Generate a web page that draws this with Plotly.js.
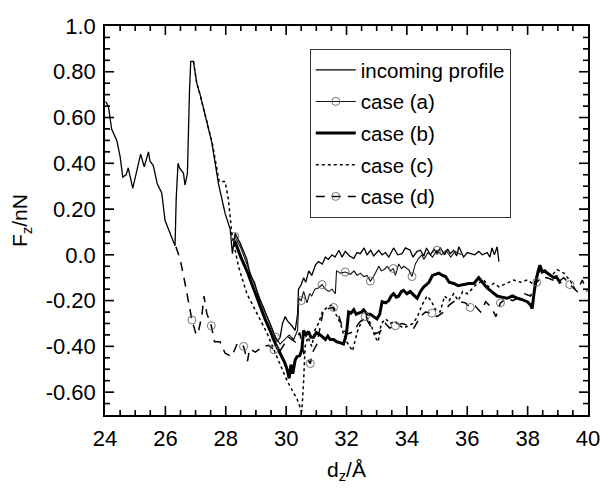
<!DOCTYPE html>
<html>
<head>
<meta charset="utf-8">
<script src="https://cdn.plot.ly/plotly-3.0.1.min.js"></script>
<style>html,body{margin:0;padding:0;background:#fff;}#chart{width:603px;height:489px;}</style>
</head>
<body>
<div id="chart"></div>
<script>
// ---------- data ----------
const incomingX = [24.02,24.11,24.22,24.39,24.50,24.59,24.70,24.77,24.92,25.05,25.18,25.30,25.44,25.49,25.60,25.73,25.88,25.99,26.16,26.25,26.32,26.36,26.42,26.47,26.60,26.65,26.73,26.80,26.84,26.93,27.04,27.15,27.35,27.54,27.76,27.98,28.15,28.22,28.31,28.48,28.70,28.81,28.95,29.10,29.25,29.40,29.55,29.70,29.80,29.88,29.97,30.05,30.19,30.30,30.38,30.41,30.50,30.58,30.65,30.75,30.85,30.97,31.07,31.20,31.30,31.40,31.52,31.62,31.75,31.85,31.96,32.10,32.24,32.35,32.46,32.58,32.68,32.80,32.90,33.07,33.18,33.29,33.40,33.56,33.70,33.84,33.95,34.11,34.20,34.34,34.45,34.56,34.65,34.78,34.90,35.00,35.11,35.25,35.35,35.44,35.55,35.65,35.72,35.80,35.88,36.00,36.11,36.25,36.38,36.50,36.66,36.75,36.82,36.90,36.99,37.05];
const incomingY = [0.67,0.65,0.55,0.50,0.43,0.34,0.35,0.38,0.29,0.36,0.44,0.385,0.45,0.41,0.39,0.31,0.27,0.15,0.09,0.06,0.04,0.25,0.40,0.38,0.356,0.305,0.356,0.72,0.845,0.845,0.75,0.70,0.59,0.49,0.31,0.18,0.11,0.005,0.094,0.05,-0.02,-0.09,-0.12,-0.19,-0.23,-0.28,-0.33,-0.38,-0.36,-0.30,-0.27,-0.29,-0.31,-0.33,-0.26,-0.15,-0.13,-0.10,-0.12,-0.07,-0.09,-0.045,-0.03,-0.04,-0.01,-0.02,0.0,-0.01,0.02,-0.01,0.015,-0.005,-0.015,0.01,0.005,0.03,0.0,0.02,-0.005,0.02,0.0,0.01,-0.01,0.03,0.0,0.005,0.03,0.02,-0.01,0.015,0.02,-0.005,0.03,0.0,0.025,0.005,0.03,0.0,0.025,0.005,0.02,-0.005,0.035,0.01,-0.01,0.01,0.005,0.0,0.015,0.0,0.01,-0.01,0.03,0.0,0.035,-0.03];

const caseAX = [28.30,28.50,28.70,28.90,29.10,29.30,29.50,29.65,29.80,29.95,30.10,30.25,30.38,30.42,30.50,30.58,30.69,30.78,30.85,30.95,31.07,31.19,31.30,31.41,31.52,31.63,31.67,31.80,31.96,32.13,32.25,32.35,32.46,32.57,32.68,32.79,32.90,33.07,33.15,33.24,33.35,33.45,33.55,33.62,33.73,33.82,33.89,34.00,34.06,34.17,34.28,34.39,34.50,34.56,34.70,34.85,35.00,35.15,35.30,35.45,35.60,35.80];
const caseAY = [0.08,0.03,-0.04,-0.11,-0.18,-0.25,-0.31,-0.36,-0.39,-0.37,-0.35,-0.37,-0.33,-0.19,-0.20,-0.16,-0.21,-0.17,-0.18,-0.15,-0.145,-0.13,-0.15,-0.16,-0.15,-0.17,-0.07,-0.08,-0.075,-0.085,-0.07,-0.09,-0.08,-0.095,-0.09,-0.115,-0.095,-0.05,-0.07,-0.065,-0.05,-0.07,-0.06,-0.09,-0.04,-0.06,-0.05,-0.06,-0.065,-0.095,-0.04,-0.015,0.0,-0.02,0.01,-0.01,0.02,0.0,0.02,-0.01,0.015,0.0];

const caseBX = [28.30,28.50,28.70,28.90,29.10,29.30,29.50,29.65,29.80,29.95,30.03,30.10,30.16,30.22,30.30,30.36,30.45,30.52,30.58,30.66,30.74,30.82,30.91,31.00,31.13,31.22,31.30,31.38,31.46,31.57,31.68,31.80,31.90,31.97,32.01,32.07,32.15,32.24,32.32,32.40,32.50,32.57,32.68,32.79,32.90,33.01,33.10,33.18,33.30,33.40,33.48,33.56,33.65,33.73,33.82,33.89,34.00,34.11,34.22,34.34,34.45,34.56,34.65,34.73,34.85,34.95,35.06,35.18,35.28,35.40,35.55,35.70,35.88,36.05,36.22,36.30,36.38,36.50,36.66,36.80,36.99,37.15,37.32,37.50,37.66,37.80,37.99,38.10,38.15,38.22,38.26,38.35,38.41,38.48,38.57,38.65,38.75,38.87,38.95,39.09];
const caseBY = [0.06,-0.01,-0.07,-0.14,-0.21,-0.28,-0.34,-0.39,-0.43,-0.47,-0.50,-0.54,-0.48,-0.52,-0.46,-0.445,-0.44,-0.415,-0.33,-0.35,-0.335,-0.36,-0.36,-0.34,-0.35,-0.36,-0.37,-0.355,-0.37,-0.37,-0.38,-0.385,-0.39,-0.36,-0.33,-0.25,-0.255,-0.24,-0.26,-0.255,-0.25,-0.24,-0.26,-0.26,-0.27,-0.28,-0.26,-0.205,-0.21,-0.20,-0.18,-0.17,-0.185,-0.18,-0.16,-0.155,-0.17,-0.16,-0.175,-0.19,-0.16,-0.14,-0.13,-0.12,-0.09,-0.085,-0.08,-0.09,-0.095,-0.12,-0.125,-0.135,-0.13,-0.125,-0.125,-0.11,-0.10,-0.12,-0.145,-0.16,-0.18,-0.185,-0.19,-0.18,-0.19,-0.195,-0.205,-0.22,-0.235,-0.16,-0.125,-0.07,-0.045,-0.075,-0.07,-0.08,-0.09,-0.10,-0.095,-0.125];

const caseCX = [26.93,27.04,27.15,27.35,27.55,27.70,27.78,27.98,28.09,28.20,28.42,28.70,29.03,29.36,29.69,30.03,30.36,30.45,30.52,30.58,30.63,30.72,30.85,30.95,31.07,31.20,31.35,31.50,31.65,31.80,31.96,32.10,32.20,32.35,32.50,32.65,32.80,32.95,33.05,33.15,33.30,33.45,33.60,33.75,33.90,34.05,34.20,34.35,34.50,34.67,34.80,34.95,35.10,35.25,35.40,35.55,35.70,35.85,36.00,36.15,36.30,36.55,36.70,36.88,37.05,37.21,37.40,37.54,37.77,37.99,38.21,38.30,38.43,38.65,38.80,38.98,39.20,39.42,39.59];
const caseCY = [0.845,0.75,0.70,0.59,0.49,0.38,0.32,0.32,0.24,0.094,-0.05,-0.17,-0.255,-0.34,-0.445,-0.55,-0.63,-0.66,-0.685,-0.55,-0.40,-0.36,-0.40,-0.33,-0.30,-0.25,-0.23,-0.22,-0.26,-0.30,-0.37,-0.40,-0.42,-0.34,-0.29,-0.27,-0.30,-0.36,-0.38,-0.30,-0.28,-0.30,-0.29,-0.31,-0.32,-0.31,-0.30,-0.27,-0.22,-0.18,-0.20,-0.24,-0.25,-0.18,-0.20,-0.17,-0.20,-0.16,-0.17,-0.15,-0.13,-0.11,-0.14,-0.125,-0.14,-0.13,-0.12,-0.11,-0.12,-0.11,-0.13,-0.09,-0.065,-0.075,-0.09,-0.065,-0.08,-0.115,-0.155];

const caseDX = [26.35,26.49,26.63,26.76,26.88,27.00,27.07,27.21,27.28,27.37,27.52,27.63,27.81,27.98,28.20,28.39,28.59,28.72,28.79,28.98,29.25,29.42,29.60,29.80,30.08,30.30,30.45,30.58,30.80,30.90,31.02,31.15,31.24,31.41,31.57,31.74,31.90,32.07,32.24,32.40,32.62,32.79,32.96,33.12,33.29,33.43,33.62,33.84,34.06,34.23,34.45,34.61,34.83,35.00,35.22,35.40,35.60,35.94,36.10,36.27,36.44,36.61,36.80,36.95,37.10,37.30,37.50,37.66,37.90,38.10,38.30,38.45,38.65,38.85,39.00,39.20,39.40,39.64,39.81,39.97];
const caseDY = [0.035,-0.02,-0.11,-0.20,-0.285,-0.34,-0.35,-0.265,-0.18,-0.255,-0.31,-0.38,-0.38,-0.43,-0.445,-0.385,-0.40,-0.465,-0.41,-0.425,-0.40,-0.395,-0.415,-0.42,-0.36,-0.38,-0.34,-0.43,-0.475,-0.42,-0.39,-0.30,-0.24,-0.235,-0.23,-0.265,-0.33,-0.345,-0.335,-0.30,-0.27,-0.31,-0.345,-0.335,-0.30,-0.32,-0.31,-0.30,-0.31,-0.32,-0.27,-0.25,-0.255,-0.27,-0.25,-0.22,-0.20,-0.21,-0.23,-0.225,-0.25,-0.205,-0.23,-0.27,-0.21,-0.19,-0.20,-0.19,-0.17,-0.18,-0.12,-0.10,-0.10,-0.11,-0.12,-0.10,-0.13,-0.16,-0.11,-0.16];

const yTickVals = [-0.6,-0.4,-0.2,0.0,0.2,0.4,0.6,0.8,1.0];
const yTickText = ['-0.60','-0.40','-0.20','0.0','0.20','0.40','0.60','0.80','1.0'];
const xTickVals = [24,26,28,30,32,34,36,38,40];
const seriesNames = ['incoming profile','case (a)','case (b)','case (c)','case (d)'];

// ---------- chart ----------
const FONT = 'Arial, "Liberation Sans", sans-serif';
const W = 603, H = 489, M = {l:105, r:15, t:26, b:74};
const X_RANGE = [24, 40], Y_RANGE = [-0.7, 1.0];
const X_MINOR = 0.5, Y_MINOR = 0.05;
const markerStyle = {symbol:'circle-open', size:8, color:'#666', line:{width:0.9, color:'#666'}};

// inward tick marks on all four sides, as line segments built from the tick settings
const pxX = (X_RANGE[1]-X_RANGE[0]) / (W - M.l - M.r);
const pxY = (Y_RANGE[1]-Y_RANGE[0]) / (H - M.t - M.b);
const tickX = [], tickY = [];
function seg(x0, y0, x1, y1){ tickX.push(x0, x1, null); tickY.push(y0, y1, null); }
const nX = Math.round((X_RANGE[1]-X_RANGE[0]) / X_MINOR);
for (let i = 1; i < nX; i++){
  const v = X_RANGE[0] + i*X_MINOR;
  const len = (xTickVals.indexOf(v) >= 0 ? 9 : 5) * pxY;
  seg(v, Y_RANGE[0], v, Y_RANGE[0] + len);
  seg(v, Y_RANGE[1], v, Y_RANGE[1] - len);
}
const nY = Math.round((Y_RANGE[1]-Y_RANGE[0]) / Y_MINOR);
for (let i = 1; i < nY; i++){
  const v = +(Y_RANGE[0] + i*Y_MINOR).toFixed(4);
  const len = (yTickVals.some(t => Math.abs(t - v) < 1e-6) ? 9 : 5) * pxX;
  seg(X_RANGE[0], v, X_RANGE[0] + len, v);
  seg(X_RANGE[1], v, X_RANGE[1] - len, v);
}

const traces = [
  {x:incomingX, y:incomingY, mode:'lines', name:seriesNames[0], legendgroup:'g1',
   line:{color:'#000', width:1.3}},
  {x:caseAX, y:caseAY, mode:'lines+markers', name:seriesNames[1], legendgroup:'g2',
   line:{color:'#111', width:1.1}, marker:Object.assign({maxdisplayed:10}, markerStyle)},
  {x:caseBX, y:caseBY, mode:'lines', name:seriesNames[2], legendgroup:'g3',
   line:{color:'#000', width:3}},
  {x:caseCX, y:caseCY, mode:'lines', name:seriesNames[3], legendgroup:'g4',
   line:{color:'#000', width:1.5, dash:'dot'}},
  {x:caseDX, y:caseDY, mode:'lines+markers', name:seriesNames[4], legendgroup:'g5',
   line:{color:'#000', width:1.5, dash:'9px,7px'}, marker:Object.assign({maxdisplayed:14}, markerStyle)},
  {x:tickX, y:tickY, mode:'lines', showlegend:false, hoverinfo:'skip', connectgaps:false,
   line:{color:'#000', width:1.6, simplify:false}}
];

const axisCommon = {
  ticks:'inside', ticklen:9, tickwidth:1.2, tickcolor:'#000',
  showline:true, linecolor:'#000', linewidth:1.5, mirror:'ticks',
  showgrid:false, zeroline:false, ticklabelstandoff:3,
  tickfont:{family:FONT, size:22, color:'#000'}
};

const layout = {
  width:W, height:H,
  margin:{l:M.l, r:M.r, t:M.t, b:M.b, pad:0},
  paper_bgcolor:'#fff', plot_bgcolor:'rgba(0,0,0,0)',
  font:{family:FONT, color:'#000', size:20},
  showlegend:true,
  legend:{x:0.424, y:0.941, xanchor:'left', yanchor:'top',
    bgcolor:'#fff', bordercolor:'#333', borderwidth:1,
    font:{family:FONT, size:20.5, color:'#000'},
    traceorder:'grouped', tracegroupgap:2, itemwidth:40},
  xaxis:Object.assign({range:X_RANGE, tickmode:'array', tickvals:xTickVals,
    minor:{dtick:X_MINOR, tick0:X_RANGE[0], ticks:'inside', ticklen:5, tickwidth:1, tickcolor:'#000', showgrid:false},
    title:{text:'d<sub>z</sub>/Å', font:{family:FONT, size:21, color:'#000'}, standoff:12}}, axisCommon),
  yaxis:Object.assign({range:Y_RANGE, tickmode:'array', tickvals:yTickVals, ticktext:yTickText,
    minor:{tickmode:'linear', dtick:Y_MINOR, tick0:Y_RANGE[0], ticks:'inside', ticklen:5, tickwidth:1, tickcolor:'#000', showgrid:false},
    title:{text:'F<sub>z</sub>/nN', font:{family:FONT, size:21, color:'#000'}, standoff:12}}, axisCommon)
};

Plotly.newPlot('chart', traces, layout, {displayModeBar:false});
</script>
</body>
</html>
